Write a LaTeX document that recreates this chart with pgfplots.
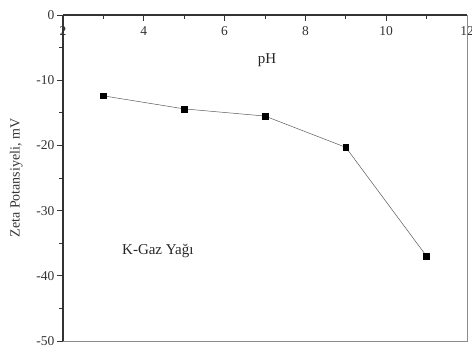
\documentclass[border=0pt]{standalone}
\usepackage{fontspec}
\setmainfont{Liberation Serif}
\usepackage{pgfplots}
\pgfplotsset{compat=1.18}
\begin{document}
\begin{tikzpicture}
\begin{axis}[
  width=404pt, height=326pt, scale only axis,
  xmin=2, xmax=12, ymin=-50, ymax=0,
  axis x line*=top, axis y line*=left,
  axis line style={black!80, line width=1.1pt},
  xtick={2,4,...,12}, minor xtick={3,5,...,11},
  xticklabels={2,4,6,8,10,12},
  xtick align=inside,
  xticklabel style={anchor=north, yshift=-8pt, font=\fontsize{13.5}{13.5}\selectfont, text=black!80},
  ytick={-50,-40,...,0}, minor ytick={-45,-35,...,-5},
  yticklabels={-50,-40,-30,-20,-10,0},
  ytick align=outside,
  yticklabel style={font=\fontsize{13.5}{13.5}\selectfont, text=black!80, xshift=1pt},
  major tick length=6pt, minor tick length=4pt,
  tick style={black!80, line width=0.9pt},
  ylabel={Zeta Potansiyeli, mV},
  ylabel style={font=\fontsize{14}{14}\selectfont, text=black!80, yshift=7pt},
  clip=false,
]
\draw[black!45, line width=0.6pt] (axis cs:2,-50) -- (axis cs:12,-50) -- (axis cs:12,0);
\addplot[black!65, line width=0.5pt, mark=square*, mark size=2.9pt, mark options={fill=black, draw=black, solid}]
  coordinates {(3,-12.4) (5,-14.4) (7,-15.5) (9,-20.3) (11,-37.0)};
\node[font=\fontsize{15}{15}\selectfont, text=black!85] at (axis cs:7.05,-7.0) {pH};
\node[font=\fontsize{15}{15}\selectfont, text=black!85, anchor=west, inner sep=0pt] at (axis cs:3.46,-36.2) {K-Gaz Yağı};
\end{axis}
\pgfresetboundingbox
\path ([xshift=-63pt,yshift=-10pt]current axis.south west) rectangle ([xshift=5pt,yshift=15pt]current axis.north east);
\end{tikzpicture}
\end{document}
